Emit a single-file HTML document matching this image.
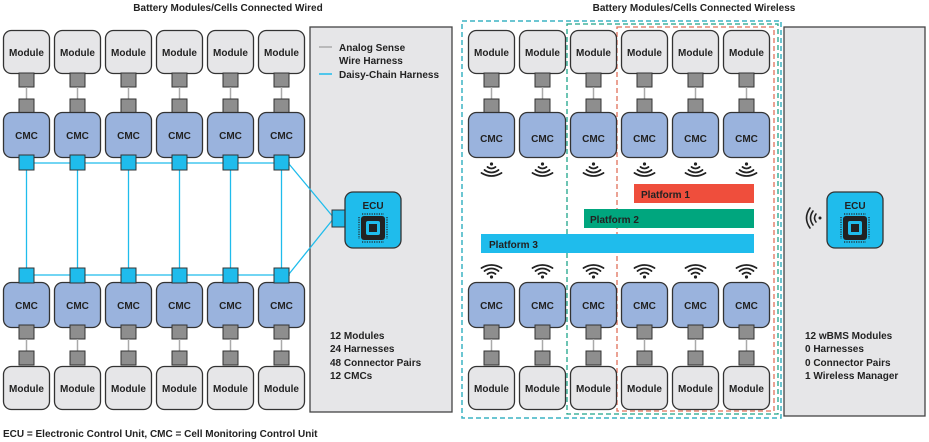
<!DOCTYPE html>
<html><head><meta charset="utf-8"><style>
html,body{margin:0;padding:0;background:#fff;}
svg{display:block;}
text{font-family:"Liberation Sans",sans-serif;font-weight:bold;fill:#222;}
</style></head><body>
<svg width="929" height="442" viewBox="0 0 929 442" xmlns="http://www.w3.org/2000/svg">
<defs>
<g id="mod"><rect x="0.5" y="0.5" width="46" height="43" rx="8" fill="#e6e6e8" stroke="#333" stroke-width="1.3"/></g>
<g id="cmc"><rect x="0.5" y="0.5" width="46" height="45" rx="8" fill="#9ab3dd" stroke="#333" stroke-width="1.3"/></g>
<g id="conn"><rect x="16" y="0" width="15" height="14" fill="#8e8e8e" stroke="#333" stroke-width="1"/><line x1="23.5" y1="14" x2="23.5" y2="26" stroke="#aaa" stroke-width="1.5"/><rect x="16" y="26" width="15" height="14" fill="#8e8e8e" stroke="#333" stroke-width="1"/></g>
<g id="bsq"><rect x="16" y="0" width="15" height="15" fill="#1fbcec" stroke="#333" stroke-width="1"/></g>
<g id="wdn" fill="none" stroke="#222" stroke-width="1.8" stroke-linecap="round"><circle cx="0" cy="0" r="1.6" fill="#222" stroke="none"/><path d="M-4 3 Q0 6 4 3"/><path d="M-7 6 Q0 11 7 6"/><path d="M-10 9 Q0 15 10 9"/></g>
<g id="wup" fill="none" stroke="#222" stroke-width="1.8" stroke-linecap="round"><circle cx="0" cy="0" r="1.6" fill="#222" stroke="none"/><path d="M-4 -3 Q0 -6 4 -3"/><path d="M-7 -6 Q0 -11 7 -6"/><path d="M-10 -9 Q0 -15 10 -9"/></g>
<g id="ecu"><rect x="0" y="0" width="56" height="56" rx="8" fill="#1fbcec" stroke="#333" stroke-width="1.3"/>
<text x="28" y="17" font-size="10" text-anchor="middle">ECU</text>
<rect x="16" y="24" width="24" height="24" rx="3" fill="#222"/><rect x="21" y="29" width="14" height="14" rx="2" fill="#1fbcec"/><rect x="24" y="32" width="8" height="8" fill="#222"/>
<g stroke="#222" stroke-width="1.2" stroke-dasharray="1.2 1.2"><line x1="17" y1="22" x2="39" y2="22"/><line x1="17" y1="50" x2="39" y2="50"/><line x1="14" y1="25" x2="14" y2="47"/><line x1="42" y1="25" x2="42" y2="47"/></g></g>
</defs>

<text x="228" y="11" font-size="10" text-anchor="middle">Battery Modules/Cells Connected Wired</text>
<text x="694" y="11" font-size="10" text-anchor="middle">Battery Modules/Cells Connected Wireless</text>

<!-- left panel -->
<rect x="310" y="27" width="142" height="385" fill="#e6e6e8" stroke="#444" stroke-width="1.3"/>
<line x1="319" y1="47" x2="332" y2="47" stroke="#aaa" stroke-width="1.5"/>
<line x1="319" y1="74" x2="332" y2="74" stroke="#1fbcec" stroke-width="1.5"/>
<text x="339" y="51" font-size="10">Analog Sense</text>
<text x="339" y="64" font-size="10">Wire Harness</text>
<text x="339" y="78" font-size="10">Daisy-Chain Harness</text>
<text x="330" y="339" font-size="10">12 Modules</text>
<text x="330" y="352" font-size="10">24 Harnesses</text>
<text x="330" y="366" font-size="10">48 Connector Pairs</text>
<text x="330" y="379" font-size="10">12 CMCs</text>

<!-- daisy chain lines -->
<g stroke="#1fbcec" stroke-width="1.3">
<line x1="26" y1="163" x2="290" y2="163"/><line x1="26" y1="275" x2="290" y2="275"/>
<line x1="26.5" y1="170" x2="26.5" y2="268"/><line x1="77.5" y1="170" x2="77.5" y2="268"/><line x1="128.5" y1="170" x2="128.5" y2="268"/><line x1="179.5" y1="170" x2="179.5" y2="268"/><line x1="230.5" y1="170" x2="230.5" y2="268"/><line x1="281.5" y1="170" x2="281.5" y2="268"/>
<line x1="289" y1="164" x2="334" y2="218"/><line x1="289" y1="274" x2="334" y2="218"/>
</g>
<rect x="332" y="210" width="15" height="17" fill="#1fbcec" stroke="#333"/>
<use href="#ecu" x="345" y="192"/>

<!-- left columns -->
<g>
<use href="#mod" x="3" y="30"/><use href="#mod" x="54" y="30"/><use href="#mod" x="105" y="30"/><use href="#mod" x="156" y="30"/><use href="#mod" x="207" y="30"/><use href="#mod" x="258" y="30"/>
<use href="#conn" x="3" y="73"/><use href="#conn" x="54" y="73"/><use href="#conn" x="105" y="73"/><use href="#conn" x="156" y="73"/><use href="#conn" x="207" y="73"/><use href="#conn" x="258" y="73"/>
<use href="#cmc" x="3" y="112"/><use href="#cmc" x="54" y="112"/><use href="#cmc" x="105" y="112"/><use href="#cmc" x="156" y="112"/><use href="#cmc" x="207" y="112"/><use href="#cmc" x="258" y="112"/>
<use href="#bsq" x="3" y="155"/><use href="#bsq" x="54" y="155"/><use href="#bsq" x="105" y="155"/><use href="#bsq" x="156" y="155"/><use href="#bsq" x="207" y="155"/><use href="#bsq" x="258" y="155"/>
<use href="#cmc" x="3" y="282"/><use href="#cmc" x="54" y="282"/><use href="#cmc" x="105" y="282"/><use href="#cmc" x="156" y="282"/><use href="#cmc" x="207" y="282"/><use href="#cmc" x="258" y="282"/>
<use href="#bsq" x="3" y="268"/><use href="#bsq" x="54" y="268"/><use href="#bsq" x="105" y="268"/><use href="#bsq" x="156" y="268"/><use href="#bsq" x="207" y="268"/><use href="#bsq" x="258" y="268"/>
<use href="#mod" x="3" y="366"/><use href="#mod" x="54" y="366"/><use href="#mod" x="105" y="366"/><use href="#mod" x="156" y="366"/><use href="#mod" x="207" y="366"/><use href="#mod" x="258" y="366"/>
<use href="#conn" x="3" y="325"/><use href="#conn" x="54" y="325"/><use href="#conn" x="105" y="325"/><use href="#conn" x="156" y="325"/><use href="#conn" x="207" y="325"/><use href="#conn" x="258" y="325"/>
</g>
<g font-size="10" text-anchor="middle">
<text x="26.5" y="56" font-size="10">Module</text><text x="77.5" y="56">Module</text><text x="128.5" y="56">Module</text><text x="179.5" y="56">Module</text><text x="230.5" y="56">Module</text><text x="281.5" y="56">Module</text>
<text x="26.5" y="139">CMC</text><text x="77.5" y="139">CMC</text><text x="128.5" y="139">CMC</text><text x="179.5" y="139">CMC</text><text x="230.5" y="139">CMC</text><text x="281.5" y="139">CMC</text>
<text x="26.5" y="309">CMC</text><text x="77.5" y="309">CMC</text><text x="128.5" y="309">CMC</text><text x="179.5" y="309">CMC</text><text x="230.5" y="309">CMC</text><text x="281.5" y="309">CMC</text>
<text x="26.5" y="392">Module</text><text x="77.5" y="392">Module</text><text x="128.5" y="392">Module</text><text x="179.5" y="392">Module</text><text x="230.5" y="392">Module</text><text x="281.5" y="392">Module</text>
</g>

<!-- right side -->
<rect x="784" y="27" width="141" height="389" fill="#e6e6e8" stroke="#444" stroke-width="1.3"/>
<use href="#ecu" x="827" y="192"/>
<g fill="none" stroke="#222" stroke-width="1.6" stroke-linecap="round"><circle cx="820" cy="218" r="1.5" fill="#222" stroke="none"/><path d="M816 214 Q813 218 816 222"/><path d="M813 211 Q808 218 813 225"/><path d="M810 208 Q803 218 810 228"/></g>
<text x="805" y="339" font-size="10">12 wBMS Modules</text>
<text x="805" y="352" font-size="10">0 Harnesses</text>
<text x="805" y="366" font-size="10">0 Connector Pairs</text>
<text x="805" y="379" font-size="10">1 Wireless Manager</text>

<rect x="462" y="21" width="319" height="397" fill="none" stroke="#3bb3c3" stroke-width="1.5" stroke-dasharray="5 3"/>
<rect x="567" y="24" width="211" height="390" fill="none" stroke="#1ea58a" stroke-width="1.3" stroke-dasharray="5 3"/>
<rect x="617" y="27" width="157" height="384" fill="none" stroke="#e0705a" stroke-width="1.3" stroke-dasharray="5 3"/>

<rect x="634" y="184" width="120" height="19" fill="#ef4e3c"/>
<rect x="584" y="209" width="170" height="19" fill="#00a67e"/>
<rect x="481" y="234" width="273" height="19" fill="#1fbcec"/>
<text x="641" y="198" font-size="10">Platform 1</text>
<text x="590" y="223" font-size="10">Platform 2</text>
<text x="489" y="248" font-size="10">Platform 3</text>

<g>
<use href="#mod" x="468" y="30"/><use href="#mod" x="519" y="30"/><use href="#mod" x="570" y="30"/><use href="#mod" x="621" y="30"/><use href="#mod" x="672" y="30"/><use href="#mod" x="723" y="30"/>
<use href="#conn" x="468" y="73"/><use href="#conn" x="519" y="73"/><use href="#conn" x="570" y="73"/><use href="#conn" x="621" y="73"/><use href="#conn" x="672" y="73"/><use href="#conn" x="723" y="73"/>
<use href="#cmc" x="468" y="112"/><use href="#cmc" x="519" y="112"/><use href="#cmc" x="570" y="112"/><use href="#cmc" x="621" y="112"/><use href="#cmc" x="672" y="112"/><use href="#cmc" x="723" y="112"/>
<use href="#wdn" x="491.5" y="164"/><use href="#wdn" x="542.5" y="164"/><use href="#wdn" x="593.5" y="164"/><use href="#wdn" x="644.5" y="164"/><use href="#wdn" x="695.5" y="164"/><use href="#wdn" x="746.5" y="164"/>
<use href="#wup" x="491.5" y="277"/><use href="#wup" x="542.5" y="277"/><use href="#wup" x="593.5" y="277"/><use href="#wup" x="644.5" y="277"/><use href="#wup" x="695.5" y="277"/><use href="#wup" x="746.5" y="277"/>
<use href="#cmc" x="468" y="282"/><use href="#cmc" x="519" y="282"/><use href="#cmc" x="570" y="282"/><use href="#cmc" x="621" y="282"/><use href="#cmc" x="672" y="282"/><use href="#cmc" x="723" y="282"/>
<use href="#mod" x="468" y="366"/><use href="#mod" x="519" y="366"/><use href="#mod" x="570" y="366"/><use href="#mod" x="621" y="366"/><use href="#mod" x="672" y="366"/><use href="#mod" x="723" y="366"/>
<use href="#conn" x="468" y="325"/><use href="#conn" x="519" y="325"/><use href="#conn" x="570" y="325"/><use href="#conn" x="621" y="325"/><use href="#conn" x="672" y="325"/><use href="#conn" x="723" y="325"/>
</g>
<g font-size="10" text-anchor="middle">
<text x="491.5" y="56">Module</text><text x="542.5" y="56">Module</text><text x="593.5" y="56">Module</text><text x="644.5" y="56">Module</text><text x="695.5" y="56">Module</text><text x="746.5" y="56">Module</text>
<text x="491.5" y="142">CMC</text><text x="542.5" y="142">CMC</text><text x="593.5" y="142">CMC</text><text x="644.5" y="142">CMC</text><text x="695.5" y="142">CMC</text><text x="746.5" y="142">CMC</text>
<text x="491.5" y="309">CMC</text><text x="542.5" y="309">CMC</text><text x="593.5" y="309">CMC</text><text x="644.5" y="309">CMC</text><text x="695.5" y="309">CMC</text><text x="746.5" y="309">CMC</text>
<text x="491.5" y="392">Module</text><text x="542.5" y="392">Module</text><text x="593.5" y="392">Module</text><text x="644.5" y="392">Module</text><text x="695.5" y="392">Module</text><text x="746.5" y="392">Module</text>
</g>

<text x="3" y="437" font-size="10">ECU = Electronic Control Unit, CMC = Cell Monitoring Control Unit</text>
</svg>
</body></html>
